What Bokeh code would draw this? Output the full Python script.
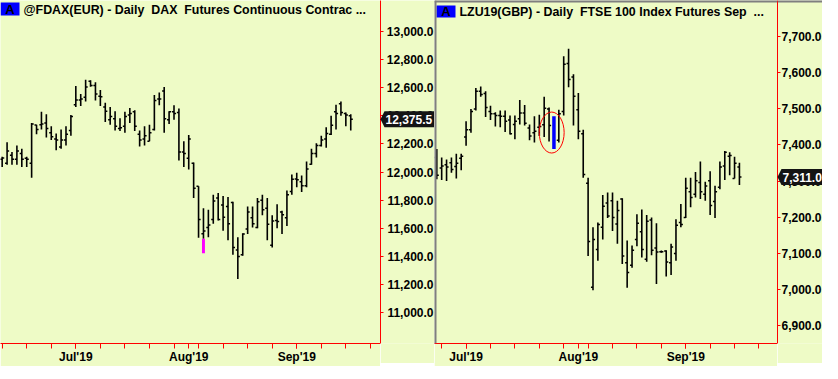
import pandas as pd
from bokeh.plotting import figure
from bokeh.layouts import row
from bokeh.models import (FixedTicker, NumeralTickFormatter, Range1d, Span,
                          ColumnDataSource, LinearAxis)
from bokeh.core.properties import value
from bokeh.embed import file_html
from bokeh.resources import INLINE

# ---------------- data ----------------
month_labels = ["Jul'19", "Aug'19", "Sep'19"]
month_numbers = [7, 8, 9]

# DAX futures, daily bars
dax_start, dax_end = "2019-06-10", "2019-09-17"
dax_title = "@FDAX(EUR) - Daily \u00a0DAX \u00a0Futures Continuous Contrac ..."
dax_open = [12090, 12062, 12119, 12090, 12131, 12097, 12062, 12335, 12337, 12348,
            12279, 12234, 12177, 12227, 12295, 12478, 12513, 12531, 12645, 12615,
            12538, 12462, 12371, 12378, 12309, 12325, 12405, 12428, 12268, 12234,
            12218, 12302, 12520, 12577, 12371, 12428, 12423, 12142, 12097, 12062,
            11898, 11560, 11605, 11662, 11815, 11765, 11754, 11783, 11445, 11411,
            11594, 11674, 11605, 11799, 11742, 11479, 11655, 11715, 11674, 11861,
            11950, 11930, 11902, 12055, 12131, 12188, 12234, 12268, 12428, 12485,
            12417, 12401]
dax_high = [12108, 12211, 12142, 12188, 12165, 12108, 12348, 12337, 12428, 12410,
            12325, 12273, 12302, 12325, 12405, 12611, 12554, 12657, 12652, 12638,
            12583, 12492, 12462, 12433, 12382, 12428, 12455, 12439, 12295, 12325,
            12337, 12547, 12565, 12604, 12433, 12474, 12451, 12218, 12263, 12067,
            11898, 11742, 11731, 11838, 11850, 11829, 11822, 11788, 11536, 11564,
            11754, 11754, 11815, 11838, 11815, 11692, 11770, 11724, 11868, 11982,
            11994, 11975, 12074, 12165, 12204, 12257, 12318, 12401, 12478, 12501,
            12423, 12410]
dax_low = [12035, 12051, 12051, 12051, 12035, 12035, 11959, 12268, 12302, 12245,
           12227, 12154, 12165, 12188, 12257, 12462, 12469, 12501, 12606, 12508,
           12469, 12355, 12337, 12295, 12291, 12279, 12348, 12291, 12181, 12188,
           12218, 12295, 12474, 12279, 12341, 12371, 12081, 12035, 12017, 11815,
           11532, 11525, 11536, 11632, 11655, 11582, 11514, 11411, 11239, 11404,
           11559, 11605, 11600, 11692, 11514, 11463, 11600, 11559, 11616, 11838,
           11891, 11857, 11891, 12051, 12103, 12181, 12172, 12263, 12302, 12401,
           12325, 12295]
dax_close = [12100, 12149, 12090, 12149, 12090, 12090, 12341, 12302, 12341, 12309,
             12250, 12227, 12227, 12268, 12394, 12513, 12520, 12604, 12615, 12554,
             12535, 12433, 12394, 12325, 12314, 12394, 12417, 12325, 12227, 12257,
             12279, 12508, 12520, 12378, 12428, 12417, 12142, 12131, 12234, 11884,
             11662, 11580, 11623, 11793, 11662, 11678, 11632, 11463, 11399, 11559,
             11715, 11632, 11788, 11731, 11628, 11651, 11648, 11696, 11838, 11948,
             11945, 11902, 12021, 12131, 12188, 12227, 12273, 12332, 12417, 12423,
             12405, 12375.5]
dax_yticks = [11000, 11200, 11400, 11600, 11800, 12000, 12200, 12400, 12600, 12800, 13000]
dax_marker_date = "2019-08-06"
dax_marker_bottom = 11422

# FTSE 100 index futures, daily bars
ftse_start, ftse_end = "2019-06-21", "2019-09-17"
ftse_title = "LZU19(GBP) - Daily \u00a0FTSE 100 Index Futures Sep \u00a0..."
ftse_open = [7365, 7336, 7345, 7351, 7340, 7363, 7422, 7442, 7500, 7549,
             7543, 7493, 7487, 7482, 7480, 7469, 7457, 7473, 7489, 7447,
             7434, 7449, 7456, 7500, 7469, 7413, 7493, 7626, 7589, 7498,
             7431, 7294, 7005, 7110, 7172, 7239, 7245, 7181, 7250, 7073,
             7066, 7138, 7159, 7083, 7192, 7114, 7104, 7106, 7073, 7099,
             7185, 7199, 7270, 7263, 7296, 7263, 7301, 7243, 7283, 7342,
             7369, 7307, 7339]
ftse_high = [7389, 7365, 7360, 7365, 7376, 7376, 7466, 7500, 7558, 7562,
             7549, 7509, 7491, 7496, 7496, 7482, 7482, 7525, 7511, 7457,
             7480, 7484, 7534, 7504, 7480, 7498, 7646, 7667, 7596, 7544,
             7442, 7309, 7172, 7185, 7261, 7268, 7268, 7245, 7252, 7135,
             7121, 7208, 7221, 7206, 7199, 7183, 7107, 7108, 7126, 7194,
             7236, 7309, 7309, 7325, 7354, 7298, 7327, 7287, 7354, 7383,
             7380, 7367, 7351]
ftse_low = [7305, 7303, 7300, 7323, 7307, 7330, 7398, 7434, 7496, 7534,
            7478, 7469, 7451, 7449, 7436, 7429, 7416, 7457, 7454, 7413,
            7407, 7425, 7422, 7410, 7389, 7407, 7482, 7560, 7454, 7416,
            7309, 7092, 6997, 7079, 7138, 7197, 7161, 7126, 7070, 7004,
            7059, 7119, 7088, 7076, 7094, 7014, 7101, 7035, 7039, 7079,
            7172, 7197, 7227, 7254, 7250, 7245, 7206, 7197, 7277, 7303,
            7316, 7307, 7289]
ftse_close = [7316, 7342, 7339, 7332, 7349, 7369, 7442, 7493, 7549, 7540,
              7504, 7487, 7482, 7480, 7466, 7431, 7466, 7489, 7460, 7425,
              7438, 7451, 7502, 7454, 7403, 7487, 7624, 7582, 7535, 7438,
              7318, 7132, 7138, 7179, 7230, 7203, 7199, 7218, 7092, 7046,
              7108, 7183, 7110, 7188, 7108, 7103, 7104, 7075, 7117, 7177,
              7179, 7280, 7254, 7301, 7270, 7286, 7232, 7270, 7339, 7380,
              7371, 7349, 7311.0]
ftse_yticks = [6900, 7000, 7100, 7200, 7300, 7400, 7500, 7600, 7700]
ftse_highlight_date = "2019-07-25"

# ---------------- style ----------------
BG = "#EEFBC6"
FONT = "Liberation Sans"
GRAY = "#7F7F7F"
FH = 343
BB = 20
TITLE_SIZE = "12.4px"


def base_fig(frame_w, xr, yr, with_xaxis):
    p = figure(frame_width=frame_w, frame_height=FH,
               x_range=xr, y_range=yr,
               x_axis_location="below" if with_xaxis else None,
               y_axis_location=None,
               toolbar_location=None, output_backend="svg",
               min_border_left=0, min_border_top=0,
               min_border_right=0, min_border_bottom=BB,
               background_fill_color=BG, border_fill_color=BG)
    p.grid.visible = False
    p.outline_line_color = None
    return p


def panel(start, end, o, h, l, c, title, yticks, xr, yr, frame_w, axis_w,
          box_px, title_px, framed=False, marker=None, highlight=None):
    dates = pd.bdate_range(start, end)
    n = len(dates)
    xs = list(range(n))
    cal = pd.bdate_range(start, periods=n + 40)
    mondays = [i for i, d in enumerate(cal) if d.weekday() == 0 and xr[0] <= i <= xr[1]]
    month_pos = [next(i for i, d in enumerate(cal) if d.month == m) for m in month_numbers]

    ux = (xr[1] - xr[0]) / frame_w
    uy = (yr[1] - yr[0]) / FH
    y_range = Range1d(*yr)

    # ---- main price frame ----
    p = base_fig(frame_w, Range1d(*xr), y_range, True)

    xa = p.xaxis[0]
    xa.ticker = FixedTicker(ticks=month_pos, minor_ticks=mondays)
    xa.major_label_overrides = {pos: lab for pos, lab in zip(month_pos, month_labels)}
    xa.axis_line_color = "red"
    xa.major_tick_line_color = "red"
    xa.minor_tick_line_color = "red"
    xa.major_tick_out = 5
    xa.major_tick_in = 0
    xa.minor_tick_out = 5
    xa.minor_tick_in = 0
    xa.major_label_standoff = 1
    xa.major_label_text_font = FONT
    xa.major_label_text_font_style = "bold"
    xa.major_label_text_font_size = "12px"
    xa.major_label_text_color = "black"

    hl_idx = None
    if highlight is not None:
        hl_idx = list(dates).index(pd.Timestamp(highlight))
    alpha = [0.0 if i == hl_idx else 1.0 for i in xs]
    src = ColumnDataSource(dict(x=xs, o=o, h=h, l=l, c=c,
                                xl=[x - 0.42 for x in xs], xr=[x + 0.42 for x in xs],
                                a=alpha))
    p.segment(x0="x", y0="l", x1="x", y1="h", source=src,
              line_color="black", line_width=1.6, line_alpha="a")
    p.segment(x0="xl", y0="o", x1="x", y1="o", source=src,
              line_color="black", line_width=1.5, line_alpha="a")
    p.segment(x0="x", y0="c", x1="xr", y1="c", source=src,
              line_color="black", line_width=1.5, line_alpha="a")

    if hl_idx is not None:
        p.segment(x0=[hl_idx], y0=[l[hl_idx]], x1=[hl_idx], y1=[h[hl_idx]],
                  line_color="#0000FF", line_width=3.5)
        mid = (h[hl_idx] + l[hl_idx]) / 2
        p.ellipse(x=[hl_idx - 0.46], y=[mid], width=5.1,
                  height=(h[hl_idx] - l[hl_idx]) * 1.25,
                  fill_color=None, line_color="red", line_width=1)

    if marker is not None:
        mdate, mbottom = marker
        mi = list(dates).index(pd.Timestamp(mdate))
        p.vbar(x=[mi], top=[l[mi]], bottom=[mbottom], width=0.6,
               fill_color="#FF00FF", line_color=None)

    # header: "A" box and title
    bx0, by0, bx1, by1 = box_px
    p.quad(left=[xr[0] + bx0 * ux], right=[xr[0] + bx1 * ux],
           top=[yr[1] - by0 * uy], bottom=[yr[1] - by1 * uy],
           fill_color="#0000FF", line_color=None)
    p.text(x=[xr[0] + (bx0 + bx1) / 2 * ux], y=[yr[1] - (by0 + by1) / 2 * uy], text=["A"],
           text_font=value(FONT), text_font_style="bold", text_font_size="13px",
           text_align="center", text_baseline="middle", text_color="black")
    tx, ty = title_px
    p.text(x=[xr[0] + tx * ux], y=[yr[1] - ty * uy], text=[title],
           text_font=value(FONT), text_font_style="bold", text_font_size=TITLE_SIZE,
           text_align="left", text_baseline="middle", text_color="black")

    # ---- price axis strip (axis line on its left edge, labels to the right) ----
    a = base_fig(axis_w, Range1d(0, axis_w), y_range, False)
    a.add_layout(LinearAxis(), "left")
    ya = a.yaxis[0]
    ya.ticker = FixedTicker(ticks=yticks)
    ya.formatter = NumeralTickFormatter(format="0,0.0")
    ya.axis_line_color = "red"
    ya.major_tick_line_color = "red"
    ya.major_tick_in = 3
    ya.major_tick_out = 0
    ya.minor_tick_line_color = None
    ya.major_label_standoff = -(axis_w - 1)
    ya.major_label_text_font = FONT
    ya.major_label_text_font_style = "bold"
    ya.major_label_text_font_size = "12px"
    ya.major_label_text_color = "black"

    # last price tag
    last = c[-1]
    hh = 8 * uy
    tag = a.patch(x=[0, 4, axis_w, axis_w, 4],
                  y=[last, last + hh, last + hh, last - hh, last - hh],
                  fill_color="#141414", line_color=None)
    tag.level = "overlay"
    txt = a.text(x=[5], y=[last], text=[f"{last:,.1f}"],
                 text_font=value(FONT), text_font_style="bold", text_font_size="12px",
                 text_color="white", text_align="left", text_baseline="middle")
    txt.level = "overlay"

    if framed:
        p.add_layout(Span(location=xr[0], dimension="height", line_color=GRAY, line_width=4))
        p.add_layout(Span(location=yr[1], dimension="width", line_color=GRAY, line_width=4))
        a.add_layout(Span(location=yr[1], dimension="width", line_color=GRAY, line_width=4))
    return p, a


p1, a1 = panel(dax_start, dax_end, dax_open, dax_high, dax_low, dax_close, dax_title,
               dax_yticks, (-0.34, 77.06), (10780, 13220), 380, 54,
               box_px=(0, 2, 19, 15), title_px=(23, 9.5),
               marker=(dax_marker_date, dax_marker_bottom))
p2, a2 = panel(ftse_start, ftse_end, ftse_open, ftse_high, ftse_low, ftse_close, ftse_title,
               ftse_yticks, (-0.47, 69.8), (6849, 7801), 343, 45,
               box_px=(2, 5, 21, 17), title_px=(25, 11.5), framed=True,
               highlight=ftse_highlight_date)

layout = row(p1, a1, p2, a2, spacing=0)
open("out.html", "w").write(file_html(layout, INLINE))
